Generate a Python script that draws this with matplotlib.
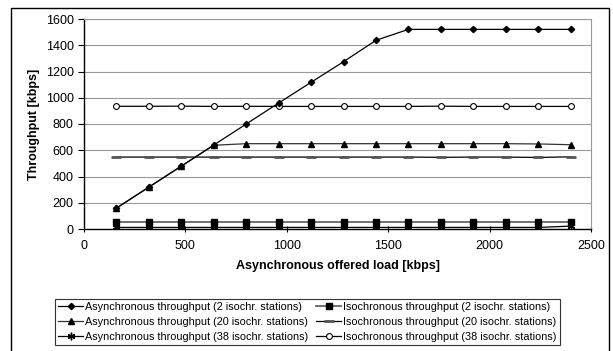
import matplotlib
matplotlib.use("Agg")
import matplotlib.pyplot as plt
from matplotlib.patches import Rectangle

plt.rcParams['font.family'] = ['Liberation Sans', 'DejaVu Sans']

# offered load [kbps]
load = [160, 320, 480, 640, 800, 960, 1120, 1280, 1440, 1600, 1760, 1920, 2080, 2240, 2400]

async_2 = [160, 320, 480, 640, 800, 960, 1118, 1275, 1438, 1521, 1521, 1521, 1521, 1521, 1521]
async_20 = [158, 318, 478, 638, 650, 650, 650, 650, 650, 650, 650, 650, 650, 648, 642]
async_38 = [12, 12, 12, 12, 12, 12, 12, 12, 12, 12, 12, 12, 12, 12, 22]
iso_2 = [56, 56, 56, 56, 56, 56, 56, 56, 56, 56, 56, 56, 56, 56, 56]
iso_20 = [548, 548, 548, 548, 548, 548, 548, 548, 548, 548, 546, 548, 548, 545, 550]
iso_38 = [935, 935, 936, 934, 935, 934, 934, 934, 934, 934, 936, 934, 934, 934, 934]

labels = [
    "Asynchronous throughput (2 isochr. stations)",
    "Asynchronous throughput (20 isochr. stations)",
    "Asynchronous throughput (38 isochr. stations)",
    "Isochronous throughput (2 isochr. stations)",
    "Isochronous throughput (20 isochr. stations)",
    "Isochronous throughput (38 isochr. stations)",
]

fig = plt.figure(figsize=(6.13, 3.51), dpi=100)
W, H = 613.0, 351.0
ax = fig.add_axes([84 / W, 1 - 229 / H, (591 - 84) / W, (229 - 19) / H])

h1, = ax.plot(load, async_2, color='black', lw=0.9, marker='D', ms=3.2, zorder=5)
h2, = ax.plot(load, async_20, color='#333333', lw=0.9, marker='^', ms=4.5, mfc='black', mec='black', zorder=4)
h3, = ax.plot(load, async_38, color='black', lw=0.9, marker=(6, 2, 0), ms=5.5, mew=1.0, zorder=4)
h4, = ax.plot(load, iso_2, color='#666666', lw=1.3, marker='s', ms=4.5, mfc='black', mec='black', zorder=3)
h5, = ax.plot(load, iso_20, color='black', lw=0.9, marker='_', ms=7, mew=2, mec='#555555', zorder=3)
h6, = ax.plot(load, iso_38, color='black', lw=0.9, marker='o', ms=4.2, mfc='white', mec='black', mew=0.8, zorder=3)

ax.set_xlim(0, 2500)
ax.set_ylim(0, 1600)
ax.set_xticks([0, 500, 1000, 1500, 2000, 2500])
ax.set_yticks(range(0, 1601, 200))
ax.grid(axis='y', color='#999999', lw=0.8)
ax.set_axisbelow(True)

for s in ['top', 'right']:
    ax.spines[s].set_color('#999999')
    ax.spines[s].set_linewidth(0.8)
ax.spines['left'].set_linewidth(1.0)
ax.spines['bottom'].set_linewidth(1.0)
ax.tick_params(axis='both', labelsize=9, length=4, width=0.8, colors='black')
ax.tick_params(axis='x', direction='inout', pad=6)

ax.set_xlabel("Asynchronous offered load [kbps]", fontsize=9, fontweight='bold', labelpad=6)
ax.set_ylabel("Throughput [kbps]", fontsize=9, fontweight='bold', labelpad=4)

leg = fig.legend([h1, h2, h3, h4, h5, h6], labels, ncol=2, fontsize=7.8,
                 loc='center', bbox_to_anchor=(307.5 / W, 1 - 322 / H),
                 frameon=True, fancybox=False, edgecolor='black',
                 handlelength=2.3, handletextpad=0.2, columnspacing=0.7,
                 labelspacing=0.45, borderpad=0.3, borderaxespad=0)
leg.get_frame().set_linewidth(0.8)

fig.patches.append(Rectangle((10.5 / W, -0.02), (609 - 10.5) / W, 1.02 - 7.5 / H,
                             transform=fig.transFigure, fill=False,
                             edgecolor='black', lw=1.0))

fig.savefig("out.png", dpi=100)
